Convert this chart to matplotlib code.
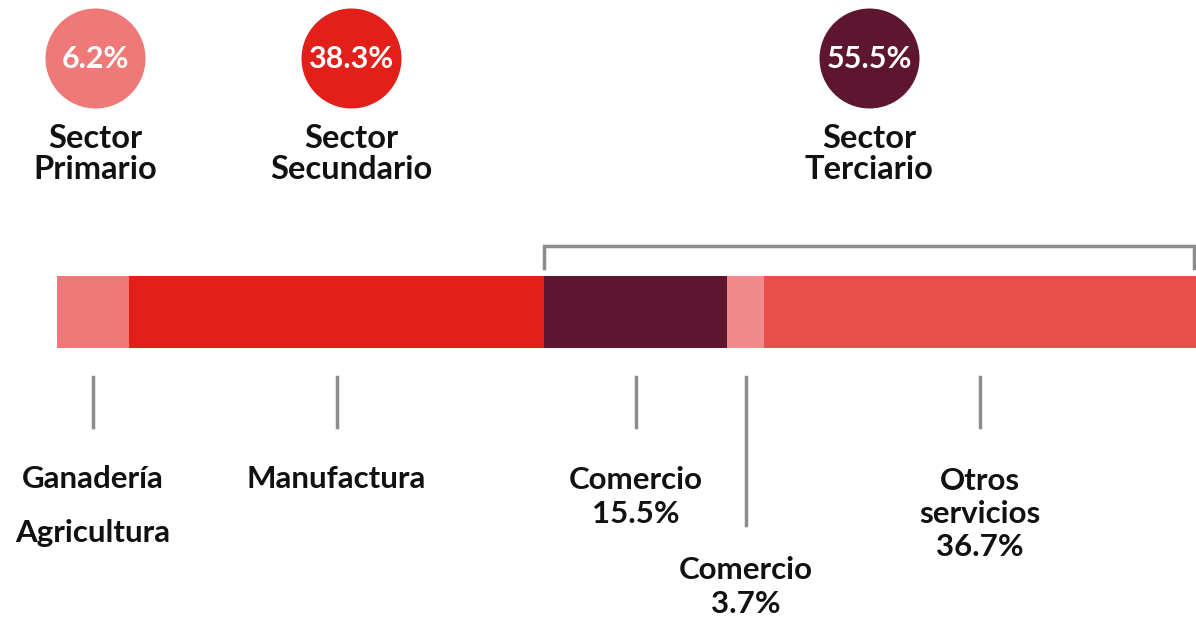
import matplotlib
matplotlib.use("Agg")
import matplotlib.pyplot as plt
import numpy as np

# Data
segments = ["Agricultura/Ganadería", "Manufactura", "Comercio", "Comercio 2", "Otros servicios"]
seg_values = [6.3, 36.5, 16.0, 3.3, 37.9]   # bar widths
seg_colors = ["#EF7878", "#E31F1A", "#5E1530", "#F08A8C", "#E8504C"]

sectors = ["Sector\nPrimario", "Sector\nSecundario", "Sector\nTerciario"]
sector_pct = ["6.2%", "38.3%", "55.5%"]
sector_colors = ["#EF7878", "#E31F1A", "#5E1530"]

W, H = 1196, 618
fig = plt.figure(figsize=(W / 100, H / 100), dpi=100)
ax = fig.add_axes([0, 0, 1, 1])
px_per = (1196 - 57) / 100.0
ax.set_xlim(-57 / px_per, 100)
ax.set_ylim(H, 0)
ax.axis("off")

FONT = "Lato"
gray = "#8C8C8C"

# Bar
left = np.concatenate([[0], np.cumsum(seg_values)[:-1]])
ax.barh([312], seg_values, left=left, height=72, color=seg_colors, linewidth=0)
centers = left + np.array(seg_values) / 2

# Bracket over tertiary sector
tl = left[2]
tr = 100 - 0.2
ax.plot([tl, tl, tr, tr], [268, 246, 246, 268], color=gray, lw=2.5, solid_joinstyle="miter")

# Tick lines
short = [0, 1, 2, 4]
for i in short:
    ax.plot([centers[i], centers[i]], [377, 427], color=gray, lw=2.5)
ax.plot([centers[3], centers[3]], [377, 525], color=gray, lw=2.5)

# Bottom labels
fs = 22.5
ls = 1.22
kw = dict(fontfamily=FONT, fontweight="bold", fontsize=fs, ha="center", va="center", color="#111111")
ax.text(centers[0], 479, "Ganadería", **kw)
ax.text(centers[0], 533, "Agricultura", **kw)
ax.text(centers[1], 479, "Manufactura", **kw)
ax.text(centers[2], 497, "Comercio\n15.5%", linespacing=ls, **kw)
ax.text(centers[3], 587, "Comercio\n3.7%", linespacing=ls, **kw)
ax.text(centers[4], 514, "Otros\nservicios\n36.7%", linespacing=ls, **kw)

# Sector circles
circle_x = [(95 - 57) / px_per, (351 - 57) / px_per, (869 - 57) / px_per]
for cx, lab, pct, col in zip(circle_x, sectors, sector_pct, sector_colors):
    ax.scatter([cx], [58], s=(72) ** 2, color=col, linewidths=0, zorder=3)
    ax.text(cx, 59, pct, fontfamily=FONT, fontweight="bold", fontsize=22, color="white",
            ha="center", va="center", zorder=4)
    ax.text(cx, 154, lab, fontfamily=FONT, fontweight="bold", fontsize=23.5, color="#111111",
            ha="center", va="center", linespacing=1.12)

fig.savefig("out.png", dpi=100)
